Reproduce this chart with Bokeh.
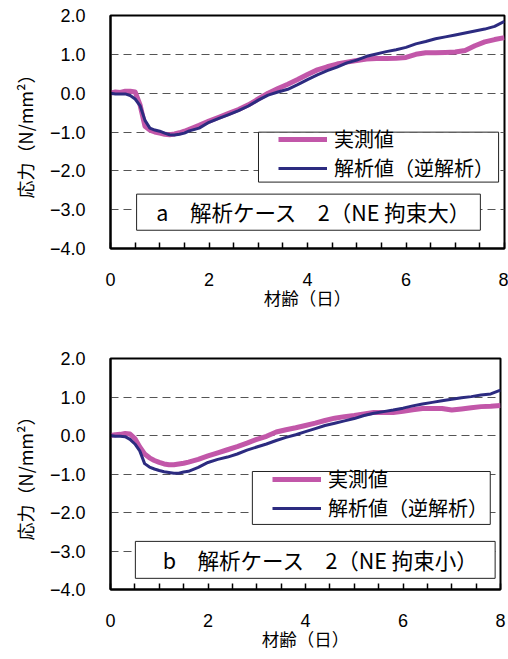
from bokeh.plotting import figure
from bokeh.models import Range1d, FixedTicker, BoxAnnotation, Label, Legend, LegendItem
from bokeh.layouts import column
from bokeh.embed import file_html
from bokeh.resources import INLINE

# ---------------- data ----------------
age_days = [0, 0.1, 0.2, 0.3, 0.4, 0.5, 0.6, 0.7, 0.8, 0.9, 1.0, 1.1, 1.2, 1.3, 1.4, 1.5, 1.6,
            1.8, 2.0, 2.2, 2.4, 2.6, 2.8, 3.0, 3.2, 3.4, 3.6, 3.8, 4.0, 4.2, 4.4, 4.6, 4.8,
            5.0, 5.2, 5.4, 5.6, 5.8, 6.0, 6.2, 6.4, 6.6, 6.8, 7.0, 7.2, 7.4, 7.6, 7.8, 8.0]

# panel a : NE restraint large
a_measured = [0.0, 0.03, 0.02, 0.05, 0.05, 0.03, -0.3, -0.85, -0.95, -1.0, -1.03, -1.06, -1.07, -1.05,
              -1.02, -0.98, -0.93, -0.83, -0.72, -0.62, -0.52, -0.42, -0.30, -0.15, 0.0, 0.12, 0.23,
              0.35, 0.48, 0.60, 0.68, 0.75, 0.80, 0.84, 0.88, 0.89, 0.89, 0.90, 0.92, 1.00, 1.04,
              1.04, 1.05, 1.06, 1.10, 1.22, 1.32, 1.38, 1.43]
a_analysis = [0.0, -0.02, -0.02, -0.02, -0.06, -0.15, -0.32, -0.70, -0.90, -0.95, -0.98, -1.03, -1.07,
              -1.08, -1.06, -1.03, -0.97, -0.90, -0.75, -0.65, -0.55, -0.45, -0.33, -0.18, -0.05,
              0.03, 0.10, 0.22, 0.35, 0.47, 0.58, 0.67, 0.78, 0.85, 0.95, 1.01, 1.07, 1.12, 1.18,
              1.27, 1.33, 1.40, 1.45, 1.50, 1.55, 1.60, 1.65, 1.72, 1.85]

# panel b : NE restraint small
b_measured = [0.0, 0.02, 0.03, 0.05, 0.04, -0.08, -0.30, -0.48, -0.58, -0.65, -0.70, -0.74, -0.76,
              -0.76, -0.74, -0.72, -0.69, -0.62, -0.53, -0.45, -0.37, -0.29, -0.20, -0.10, -0.02,
              0.09, 0.15, 0.20, 0.26, 0.32, 0.39, 0.45, 0.49, 0.52, 0.56, 0.60, 0.60, 0.60, 0.63,
              0.67, 0.70, 0.70, 0.70, 0.66, 0.69, 0.72, 0.75, 0.76, 0.78]
b_analysis = [0.0, -0.02, -0.02, -0.03, -0.10, -0.22, -0.40, -0.73, -0.82, -0.87, -0.91, -0.94, -0.96,
              -0.98, -0.98, -0.95, -0.93, -0.83, -0.70, -0.62, -0.56, -0.48, -0.38, -0.30, -0.22,
              -0.13, -0.05, 0.02, 0.10, 0.18, 0.26, 0.32, 0.38, 0.44, 0.52, 0.58, 0.62, 0.66, 0.71,
              0.77, 0.82, 0.86, 0.90, 0.94, 0.98, 1.01, 1.05, 1.08, 1.18]

x_ticks = [0, 2, 4, 6, 8]
x_minor_ticks = [0.5, 1, 1.5, 2.5, 3, 3.5, 4.5, 5, 5.5, 6.5, 7, 7.5]
y_ticks = [-4, -3, -2, -1, 0, 1, 2]
y_tick_labels = ["−4.0", "−3.0", "−2.0", "−1.0", "0.0", "1.0", "2.0"]
grid_levels = [-3, -2, -1, 0, 1]

series_names = ["実測値", "解析値（逆解析）"]
x_title = "材齢（日）"
y_title = "応力（N/mm²）"
captions = ["a　解析ケース　2（NE 拘束大）", "b　解析ケース　2（NE 拘束小）"]

# ---------------- style ----------------
PINK = "#C257A9"
NAVY = "#2C2B80"
JP = "Noto Sans CJK JP"
NUM = "Liberation Sans"

geoms = [
    dict(fw=394, fh=233, bt=15, bb=82, bl=110, br=4,
         legend_box=(3.005, 7.88, -1.004, -2.29), legend_loc=(165, 63),
         cap_box=(0.53, 7.51, -2.60, -3.53), cap_pos=(0.93, -3.06)),
    dict(fw=390, fh=231, bt=28, bb=64, bl=110, br=8,
         legend_box=(2.91, 7.79, -0.935, -2.31), legend_loc=(159, 64),
         cap_box=(0.51, 7.89, -2.75, -3.71), cap_pos=(1.07, -3.23)),
]


def make_panel(measured, analysis, caption, g):
    p = figure(frame_width=g["fw"], frame_height=g["fh"], output_backend="svg",
               toolbar_location=None, x_range=Range1d(0, 8), y_range=Range1d(-4, 2),
               min_border_top=g["bt"], min_border_bottom=g["bb"],
               min_border_left=g["bl"], min_border_right=g["br"])
    p.background_fill_color = "white"
    p.border_fill_color = "white"
    p.outline_line_color = "black"
    p.outline_line_width = 2
    p.outline_line_alpha = 1

    p.xgrid.visible = False
    p.ygrid.ticker = FixedTicker(ticks=grid_levels)
    p.ygrid.grid_line_color = "#555555"
    p.ygrid.grid_line_dash = "8 5"
    p.ygrid.grid_line_width = 1

    xa = p.xaxis[0]
    xa.ticker = FixedTicker(ticks=x_ticks, minor_ticks=x_minor_ticks)
    xa.major_tick_in = 6
    xa.major_tick_out = 0
    xa.minor_tick_in = 6
    xa.minor_tick_out = 0
    xa.major_tick_line_width = 1.5
    xa.minor_tick_line_width = 1.5
    xa.major_tick_line_color = "black"
    xa.minor_tick_line_color = "black"
    xa.axis_line_width = 2
    xa.axis_line_color = "black"
    xa.major_label_text_font = NUM
    xa.major_label_text_font_size = "18px"
    xa.major_label_text_color = "black"
    xa.major_label_standoff = 24
    xa.axis_label = x_title
    xa.axis_label_text_font = JP
    xa.axis_label_text_font_size = "17.5px"
    xa.axis_label_text_font_style = "normal"
    xa.axis_label_text_color = "black"
    xa.axis_label_standoff = -4

    ya = p.yaxis[0]
    ya.ticker = FixedTicker(ticks=y_ticks)
    ya.major_label_overrides = {t: s for t, s in zip(y_ticks, y_tick_labels)}
    ya.major_tick_in = 0
    ya.major_tick_out = 0
    ya.minor_tick_in = 0
    ya.minor_tick_out = 0
    ya.axis_line_width = 2
    ya.axis_line_color = "black"
    ya.major_label_text_font = NUM
    ya.major_label_text_font_size = "18px"
    ya.major_label_text_color = "black"
    ya.major_label_standoff = 25
    ya.axis_label = y_title
    ya.axis_label_text_font = JP
    ya.axis_label_text_font_size = "18px"
    ya.axis_label_text_font_style = "normal"
    ya.axis_label_text_color = "black"
    ya.axis_label_standoff = 9

    r_meas = p.line(age_days, measured, line_color=PINK, line_width=5, line_join="round")
    r_calc = p.line(age_days, analysis, line_color=NAVY, line_width=3, line_join="round")

    l, r, t, b = g["legend_box"]
    p.add_layout(BoxAnnotation(left=l, right=r, top=t, bottom=b, fill_color="white",
                               fill_alpha=1, line_color="#222222", line_width=1, line_alpha=1))
    l, r, t, b = g["cap_box"]
    p.add_layout(BoxAnnotation(left=l, right=r, top=t, bottom=b, fill_color="white",
                               fill_alpha=1, line_color="#222222", line_width=1, line_alpha=1))
    cx, cy = g["cap_pos"]
    p.add_layout(Label(x=cx, y=cy, text=caption, text_font=JP, text_font_size="21.5px",
                       text_baseline="middle", text_align="left", text_color="black"))

    legend = Legend(items=[LegendItem(label=series_names[0], renderers=[r_meas]),
                           LegendItem(label=series_names[1], renderers=[r_calc])],
                    location=g["legend_loc"], orientation="vertical",
                    padding=3, margin=0, spacing=-6,
                    glyph_width=49, glyph_height=22, label_height=22, label_standoff=7,
                    label_text_font=JP, label_text_font_size="20px", label_text_color="black",
                    background_fill_alpha=0, border_line_alpha=0)
    p.add_layout(legend, "center")
    return p


p1 = make_panel(a_measured, a_analysis, captions[0], geoms[0])
p2 = make_panel(b_measured, b_analysis, captions[1], geoms[1])
layout = column(p1, p2, spacing=0)

open("out.html", "w").write(file_html(layout, INLINE))
